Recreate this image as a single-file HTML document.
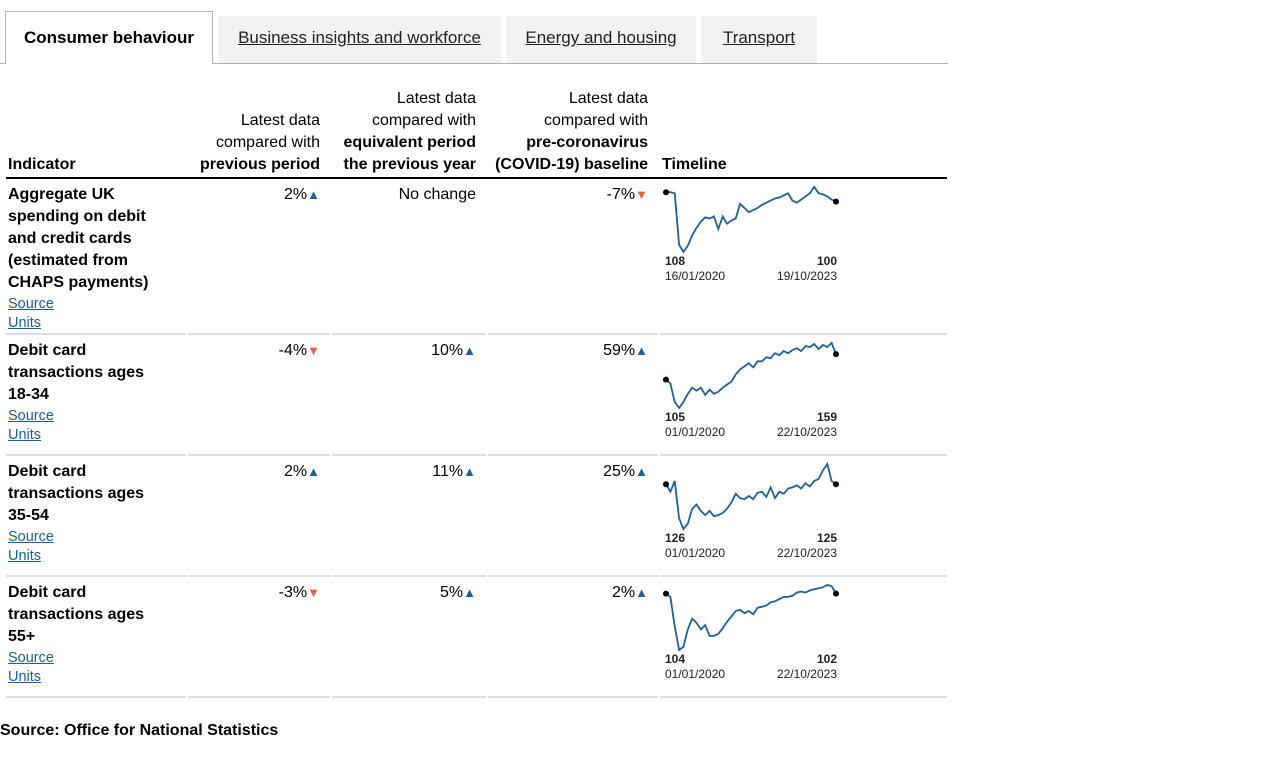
<!DOCTYPE html>
<html><head><meta charset="utf-8">
<style>
body{margin:0;width:1280px;height:771px;background:#fff;font-family:"Liberation Sans",sans-serif;color:#000;position:relative;overflow:hidden}
.a{position:absolute}
.tab{position:absolute;top:16px;height:47px;background:#f3f2f1;font-size:17px;line-height:44px;text-align:center;text-decoration:underline;color:#222}
.hd{position:absolute;top:80px;height:96px;font-size:16px;line-height:22px;display:flex;flex-direction:column;justify-content:flex-end;text-align:right}
.cell{position:absolute;font-size:16px;text-align:right;line-height:22px}
.title{position:absolute;left:8px;font-size:16px;font-weight:bold;line-height:22px;width:170px}
.lnk{position:absolute;left:8px;font-size:14.5px;color:#206095;text-decoration:underline;line-height:19px}
.sep{position:absolute;height:2px;background:#ddd}
.up{color:#206095;font-size:13px}.dn{color:#e8604a;font-size:13px}
.sl{position:absolute;font-size:12px;line-height:15px;color:#222}
</style></head><body>
<div class="a" style="left:0;top:63px;width:948px;height:1px;background:#b1b4b6"></div>
<div class="a" style="left:5px;top:11px;width:206px;height:52px;background:#fff;border:1px solid #b1b4b6;border-bottom:none;font-size:17px;font-weight:bold;line-height:52px;text-align:center">Consumer behaviour</div>
<div class="tab" style="left:218px;width:283px">Business insights and workforce</div>
<div class="tab" style="left:506px;width:190px">Energy and housing</div>
<div class="tab" style="left:701px;width:116px">Transport</div>

<div class="hd" style="left:8px;width:170px;text-align:left;font-weight:bold">Indicator</div>
<div class="hd" style="left:188px;width:132px"><span>Latest data compared with <b>previous period</b></span></div>
<div class="hd" style="left:332px;width:144px"><span>Latest data compared with <b>equivalent period the previous year</b></span></div>
<div class="hd" style="left:488px;width:160px"><span>Latest data<br>compared with<br><b>pre-coronavirus (COVID-19) baseline</b></span></div>
<div class="hd" style="left:662px;width:200px;text-align:left;font-weight:bold">Timeline</div>
<div class="a" style="left:6px;top:177px;width:941px;height:2px;background:#000"></div>

<div id="rows"></div>
<svg id="spark" class="a" style="left:0;top:0" width="1280" height="771"></svg>
<div class="a" style="left:0;top:722px;font-size:16px;font-weight:bold">Source: Office for National Statistics</div>

<script>
const titles=[["Aggregate UK","spending on debit","and credit cards","(estimated from","CHAPS payments)"],["Debit card","transactions ages","18-34"],["Debit card","transactions ages","35-54"],["Debit card","transactions ages","55+"]];
const prevPeriod=["2%|u","-4%|d","2%|u","-3%|d"];
const prevYear=["No change","10%|u","11%|u","5%|u"];
const baseline=["-7%|d","59%|u","25%|u","2%|u"];
const startVals=["108","105","126","104"];
const endVals=["100","159","125","102"];
const startDates=["16/01/2020","01/01/2020","01/01/2020","01/01/2020"];
const endDates=["19/10/2023","22/10/2023","22/10/2023","22/10/2023"];
const s1=[65,65,64,15,8,14,24,31,37,41,40,42,30,42,35,38,40,54,50,46,48,50,53,55,57,59,60,62,64,57,55,58,61,64,70,64,63,61,58,56];
const s2=[30,26,8,2,8,16,22,19,22,15,20,16,18,22,25,28,35,40,43,46,42,48,48,52,51,56,54,58,56,59,61,58,63,62,65,60,64,62,66,55];
const s3=[45,38,48,13,3,8,22,26,20,16,20,15,16,18,22,28,36,32,31,34,31,37,38,33,42,32,38,36,41,42,44,41,46,43,48,50,58,64,48,45];
const s4=[55,52,25,3,6,22,32,28,22,26,16,16,18,23,29,34,39,40,37,39,36,42,43,44,47,48,50,52,52,53,56,57,56,58,59,60,61,63,62,55];
const series=[s1,s2,s3,s4];
const rowTops=[178,334,455,576];
const rowH=[156,121,121,121];
const R=document.getElementById('rows');
function arrow(v){const p=v.split('|');if(p.length<2)return v;return p[0]+(p[1]==='u'?'<span class="up">▲</span>':'<span class="dn">▼</span>');}
for(let i=0;i<4;i++){
 const t=rowTops[i];
 const ti=document.createElement('div');ti.className='title';ti.style.top=(t+6)+'px';ti.innerHTML=titles[i].join('<br>');
 
 
 R.appendChild(ti);
 const ly=t+7+titles[i].length*22;
 ['Source','Units'].forEach((n,k)=>{const a=document.createElement('div');a.className='lnk';a.style.top=(ly+k*19)+'px';a.textContent=n;
  
  
  R.appendChild(a);});
 [[prevPeriod,188,132],[prevYear,332,144],[baseline,488,160]].forEach(([arr,l,w])=>{const c=document.createElement('div');c.className='cell';c.style.left=l+'px';c.style.width=w+'px';c.style.top=(t+6)+'px';c.innerHTML=arrow(arr[i]);
  
  
  R.appendChild(c);});
 const b=t+rowH[i];
 [[6,180],[188,142],[332,154],[488,170],[660,287]].forEach(([l,w])=>{const s=document.createElement('div');s.className='sep';s.style.left=l+'px';s.style.width=w+'px';s.style.top=(b-1)+'px';
  
  
  R.appendChild(s);});
 const mk=(txt,l,top,bold,al)=>{const d=document.createElement('div');d.className='sl';d.style.left=l+'px';d.style.top=top+'px';d.style.width='80px';d.style.textAlign=al;if(bold)d.style.fontWeight='bold';d.textContent=txt;
  
  
  R.appendChild(d);};
 mk(startVals[i],665,t+76,1,'left');mk(endVals[i],757,t+76,1,'right');
 mk(startDates[i],665,t+91,0,'left');mk(endDates[i],757,t+91,0,'right');
}
const svg=document.getElementById('spark');const NS='http://www.w3.org/2000/svg';
for(let i=0;i<4;i++){
 const d=series[i];const mn=Math.min(...d),mx=Math.max(...d);
 const top=rowTops[i]+9,bot=rowTops[i]+74;
 const xs=k=>666+k*(170/(d.length-1));const ys=v=>bot-(v-mn)/(mx-mn)*(bot-top);
 const p=document.createElementNS(NS,'path');
 p.setAttribute('d',d.map((v,k)=>(k?'L':'M')+xs(k).toFixed(1)+' '+ys(v).toFixed(1)).join(''));
 p.setAttribute('fill','none');p.setAttribute('stroke','#206095');p.setAttribute('stroke-width','1.8');
 
 
 svg.appendChild(p);
 [0,d.length-1].forEach(k=>{const c=document.createElementNS(NS,'circle');c.setAttribute('cx',xs(k));c.setAttribute('cy',ys(d[k]));c.setAttribute('r','3');
  
  
  svg.appendChild(c);});
}
</script>
</body></html>
